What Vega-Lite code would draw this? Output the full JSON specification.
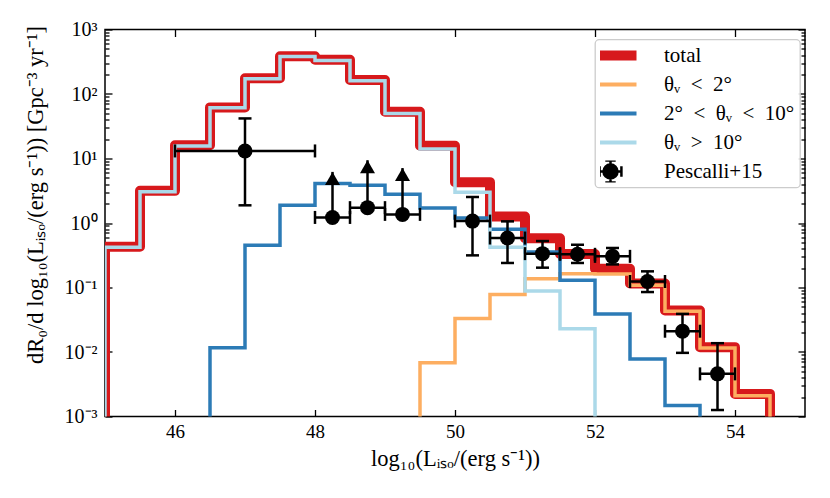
{
  "$schema": "https://vega.github.io/schema/vega-lite/v6.json",
  "width": 700,
  "height": 387,
  "autosize": {"type": "none"},
  "padding": {"left": 105, "top": 29.5, "right": 25, "bottom": 81.5},
  "background": "white",
  "datasets": {
    "hist": [
      {"s": "total", "i": 0, "x": 45, "v": 0.000001},
      {"s": "total", "i": 1, "x": 45, "v": 0.43},
      {"s": "total", "i": 2, "x": 45.5, "v": 3.15},
      {"s": "total", "i": 3, "x": 46, "v": 16},
      {"s": "total", "i": 4, "x": 46.5, "v": 62},
      {"s": "total", "i": 5, "x": 47, "v": 175},
      {"s": "total", "i": 6, "x": 47.5, "v": 385},
      {"s": "total", "i": 7, "x": 48, "v": 340},
      {"s": "total", "i": 8, "x": 48.5, "v": 165},
      {"s": "total", "i": 9, "x": 49, "v": 53},
      {"s": "total", "i": 10, "x": 49.5, "v": 15.8},
      {"s": "total", "i": 11, "x": 50, "v": 4.3},
      {"s": "total", "i": 12, "x": 50.5, "v": 1.26},
      {"s": "total", "i": 13, "x": 51, "v": 0.58},
      {"s": "total", "i": 14, "x": 51.5, "v": 0.33},
      {"s": "total", "i": 15, "x": 52, "v": 0.195},
      {"s": "total", "i": 16, "x": 52.5, "v": 0.115},
      {"s": "total", "i": 17, "x": 53, "v": 0.044},
      {"s": "total", "i": 18, "x": 53.5, "v": 0.0119},
      {"s": "total", "i": 19, "x": 54, "v": 0.00224},
      {"s": "total", "i": 20, "x": 54.5, "v": 0.00224},
      {"s": "total", "i": 21, "x": 54.5, "v": 0.000001},
      {"s": "θᵥ\u2002<\u20022°", "i": 0, "x": 49.5, "v": 0.000001},
      {"s": "θᵥ\u2002<\u20022°", "i": 1, "x": 49.5, "v": 0.0068},
      {"s": "θᵥ\u2002<\u20022°", "i": 2, "x": 50, "v": 0.033},
      {"s": "θᵥ\u2002<\u20022°", "i": 3, "x": 50.5, "v": 0.078},
      {"s": "θᵥ\u2002<\u20022°", "i": 4, "x": 51, "v": 0.137},
      {"s": "θᵥ\u2002<\u20022°", "i": 5, "x": 51.5, "v": 0.164},
      {"s": "θᵥ\u2002<\u20022°", "i": 6, "x": 52, "v": 0.162},
      {"s": "θᵥ\u2002<\u20022°", "i": 7, "x": 52.5, "v": 0.108},
      {"s": "θᵥ\u2002<\u20022°", "i": 8, "x": 53, "v": 0.043},
      {"s": "θᵥ\u2002<\u20022°", "i": 9, "x": 53.5, "v": 0.0115},
      {"s": "θᵥ\u2002<\u20022°", "i": 10, "x": 54, "v": 0.0021},
      {"s": "θᵥ\u2002<\u20022°", "i": 11, "x": 54.5, "v": 0.0021},
      {"s": "θᵥ\u2002<\u20022°", "i": 12, "x": 54.5, "v": 0.000001},
      {"s": "2°\u2002<\u2002θᵥ\u2002<\u200210°", "i": 0, "x": 46.5, "v": 0.000001},
      {"s": "2°\u2002<\u2002θᵥ\u2002<\u200210°", "i": 1, "x": 46.5, "v": 0.0116},
      {"s": "2°\u2002<\u2002θᵥ\u2002<\u200210°", "i": 2, "x": 47, "v": 0.45},
      {"s": "2°\u2002<\u2002θᵥ\u2002<\u200210°", "i": 3, "x": 47.5, "v": 1.88},
      {"s": "2°\u2002<\u2002θᵥ\u2002<\u200210°", "i": 4, "x": 48, "v": 4.1},
      {"s": "2°\u2002<\u2002θᵥ\u2002<\u200210°", "i": 5, "x": 48.5, "v": 3.85},
      {"s": "2°\u2002<\u2002θᵥ\u2002<\u200210°", "i": 6, "x": 49, "v": 2.79},
      {"s": "2°\u2002<\u2002θᵥ\u2002<\u200210°", "i": 7, "x": 49.5, "v": 1.71},
      {"s": "2°\u2002<\u2002θᵥ\u2002<\u200210°", "i": 8, "x": 50, "v": 1.2},
      {"s": "2°\u2002<\u2002θᵥ\u2002<\u200210°", "i": 9, "x": 50.5, "v": 0.8},
      {"s": "2°\u2002<\u2002θᵥ\u2002<\u200210°", "i": 10, "x": 51, "v": 0.355},
      {"s": "2°\u2002<\u2002θᵥ\u2002<\u200210°", "i": 11, "x": 51.5, "v": 0.129},
      {"s": "2°\u2002<\u2002θᵥ\u2002<\u200210°", "i": 12, "x": 52, "v": 0.039},
      {"s": "2°\u2002<\u2002θᵥ\u2002<\u200210°", "i": 13, "x": 52.5, "v": 0.0078},
      {"s": "2°\u2002<\u2002θᵥ\u2002<\u200210°", "i": 14, "x": 53, "v": 0.00148},
      {"s": "2°\u2002<\u2002θᵥ\u2002<\u200210°", "i": 15, "x": 53.5, "v": 0.00148},
      {"s": "2°\u2002<\u2002θᵥ\u2002<\u200210°", "i": 16, "x": 53.5, "v": 0.000001},
      {"s": "θᵥ\u2002>\u200210°", "i": 0, "x": 45, "v": 0.000001},
      {"s": "θᵥ\u2002>\u200210°", "i": 1, "x": 45, "v": 0.42},
      {"s": "θᵥ\u2002>\u200210°", "i": 2, "x": 45.5, "v": 3.05},
      {"s": "θᵥ\u2002>\u200210°", "i": 3, "x": 46, "v": 15.6},
      {"s": "θᵥ\u2002>\u200210°", "i": 4, "x": 46.5, "v": 61},
      {"s": "θᵥ\u2002>\u200210°", "i": 5, "x": 47, "v": 172},
      {"s": "θᵥ\u2002>\u200210°", "i": 6, "x": 47.5, "v": 380},
      {"s": "θᵥ\u2002>\u200210°", "i": 7, "x": 48, "v": 332},
      {"s": "θᵥ\u2002>\u200210°", "i": 8, "x": 48.5, "v": 160},
      {"s": "θᵥ\u2002>\u200210°", "i": 9, "x": 49, "v": 50},
      {"s": "θᵥ\u2002>\u200210°", "i": 10, "x": 49.5, "v": 14},
      {"s": "θᵥ\u2002>\u200210°", "i": 11, "x": 50, "v": 3.0},
      {"s": "θᵥ\u2002>\u200210°", "i": 12, "x": 50.5, "v": 0.42},
      {"s": "θᵥ\u2002>\u200210°", "i": 13, "x": 51, "v": 0.088},
      {"s": "θᵥ\u2002>\u200210°", "i": 14, "x": 51.5, "v": 0.023},
      {"s": "θᵥ\u2002>\u200210°", "i": 15, "x": 52, "v": 0.023},
      {"s": "θᵥ\u2002>\u200210°", "i": 16, "x": 52, "v": 0.000001}
    ],
    "obs": [
      {"x": 47, "y": 13.1, "xlo": 46, "xhi": 48, "ylo": 1.88, "yhi": 41.8, "tip": null},
      {"x": 48.25, "y": 1.22, "xlo": 48, "xhi": 48.5, "ylo": null, "yhi": null, "tip": 6.2},
      {"x": 48.75, "y": 1.73, "xlo": 48.5, "xhi": 49, "ylo": null, "yhi": null, "tip": 9.4},
      {"x": 49.25, "y": 1.36, "xlo": 49, "xhi": 49.5, "ylo": null, "yhi": null, "tip": 7.1},
      {"x": 50.25, "y": 1.07, "xlo": 50, "xhi": 50.5, "ylo": 0.315, "yhi": 2.53, "tip": null},
      {"x": 50.75, "y": 0.585, "xlo": 50.5, "xhi": 51, "ylo": 0.24, "yhi": 1.06, "tip": null},
      {"x": 51.25, "y": 0.335, "xlo": 51, "xhi": 51.5, "ylo": 0.203, "yhi": 0.525, "tip": null},
      {"x": 51.75, "y": 0.327, "xlo": 51.5, "xhi": 52, "ylo": 0.24, "yhi": 0.46, "tip": null},
      {"x": 52.25, "y": 0.304, "xlo": 52, "xhi": 52.5, "ylo": 0.228, "yhi": 0.41, "tip": null},
      {"x": 52.75, "y": 0.124, "xlo": 52.5, "xhi": 53, "ylo": 0.085, "yhi": 0.178, "tip": null},
      {"x": 53.25, "y": 0.021, "xlo": 53, "xhi": 53.5, "ylo": 0.0097, "yhi": 0.039, "tip": null},
      {"x": 53.75, "y": 0.00458, "xlo": 53.5, "xhi": 54, "ylo": 0.00126, "yhi": 0.0137, "tip": null}
    ]
  },
  "resolve": {"axis": {"x": "independent", "y": "independent"}},
  "layer": [
    {
      "data": {"name": "hist"},
      "transform": [{"filter": "datum.s === 'total'"}],
      "mark": {"type": "line", "interpolate": "step-after", "strokeWidth": 10, "clip": true, "strokeJoin": "round"},
      "encoding": {
        "x": {"field": "x", "type": "quantitative", "scale": {"domain": [45, 55], "nice": false, "zero": false},
          "axis": {"orient": "bottom", "values": [46, 48, 50, 52, 54], "tickSize": -7, "labelPadding": 13, "title": "log₁₀(Lᵢₛₒ/(erg s⁻¹))", "titleFontSize": 22.5, "titleY": 31, "titleBaseline": "top"}},
        "y": {"field": "v", "type": "quantitative", "scale": {"type": "log", "domain": [0.001, 1000], "nice": false},
          "axis": {"orient": "left", "values": [0.001, 0.01, 0.1, 1, 10, 100, 1000], "tickSize": -7, "labelPadding": 15, "labelBaseline": "middle", "labelFontSize": 20,
            "labelExpr": "datum.value < 0.005 ? '10⁻³' : datum.value < 0.05 ? '10⁻²' : datum.value < 0.5 ? '10⁻¹' : datum.value < 5 ? '10⁰' : datum.value < 50 ? '10¹' : datum.value < 500 ? '10²' : '10³'",
            "title": "dR₀/d log₁₀(Lᵢₛₒ/(erg s⁻¹)) [Gpc⁻³ yr⁻¹]", "titleFontSize": 22.5, "titleX": -58, "titleY": 165, "titleBaseline": "bottom"}},
        "color": {"field": "s", "type": "nominal",
          "scale": {"domain": ["total", "θᵥ\u2002<\u20022°", "2°\u2002<\u2002θᵥ\u2002<\u200210°", "θᵥ\u2002>\u200210°", "Pescalli+15"], "range": ["#d7191c", "#fdae61", "#2c7bb6", "#abd9e9", "#000000"]},
          "legend": {
            "orient": "none", "legendX": 490, "legendY": 10, "title": null,
            "symbolType": "stroke", "symbolSize": 2704, "symbolStrokeWidth": 4, "clipHeight": 22,
            "labelFont": "Liberation Serif", "labelFontSize": 21, "labelColor": "black", "labelOffset": 43, "labelLimit": 300,
            "rowPadding": 7, "padding": 5, "strokeColor": "#cccccc", "fillColor": "#ffffff", "cornerRadius": 4,
            "symbolOpacity": 1,
            "encode": {
              "legend": {"update": {"stroke": {"value": "#cccccc"}, "strokeWidth": {"value": 1.3}, "fill": {"value": "#ffffff"}, "fillOpacity": {"value": 0.85}, "cornerRadius": {"value": 4}}},
              "symbols": {"update": {
                "shape": {"signal": "datum.value === 'Pescalli+15' ? 'M -0.27 0 A 0.27 0.27 0 1 0 0.27 0 A 0.27 0.27 0 1 0 -0.27 0 Z M -0.42 0 L 0.42 0 M 0 -0.42 L 0 0.42 M -0.42 -0.2 L -0.42 0.2 M 0.42 -0.2 L 0.42 0.2 M -0.2 -0.42 L 0.2 -0.42 M -0.2 0.42 L 0.2 0.42' : 'stroke'"},
                "strokeWidth": {"signal": "datum.value === 'total' ? 10 : datum.value === 'Pescalli+15' ? 2.5 : 4"},
                "stroke": {"scale": "color", "field": "value"},
                "fill": {"signal": "datum.value === 'Pescalli+15' ? '#000000' : 'transparent'"},
                "opacity": {"value": 1}
              }}
            }
          }},
        "order": {"field": "i", "type": "quantitative"}
      }
    },
    {
      "data": {"name": "hist"},
      "transform": [{"filter": "datum.s !== 'total'"}],
      "mark": {"type": "line", "interpolate": "step-after", "strokeWidth": 3.5, "clip": true, "strokeJoin": "miter"},
      "encoding": {
        "x": {"field": "x", "type": "quantitative", "scale": {"domain": [45, 55], "nice": false, "zero": false},
          "axis": {"orient": "top", "values": [46, 48, 50, 52, 54], "tickSize": -7, "labels": false, "title": null}},
        "y": {"field": "v", "type": "quantitative", "scale": {"type": "log", "domain": [0.001, 1000], "nice": false},
          "axis": {"orient": "left", "values": [0.002, 0.003, 0.004, 0.005, 0.006, 0.007, 0.008, 0.009, 0.02, 0.03, 0.04, 0.05, 0.06, 0.07, 0.08, 0.09, 0.2, 0.3, 0.4, 0.5, 0.6, 0.7, 0.8, 0.9, 2, 3, 4, 5, 6, 7, 8, 9, 20, 30, 40, 50, 60, 70, 80, 90, 200, 300, 400, 500, 600, 700, 800, 900], "tickSize": -4, "labels": false, "title": null}},
        "color": {"field": "s", "type": "nominal",
          "scale": {"domain": ["total", "θᵥ\u2002<\u20022°", "2°\u2002<\u2002θᵥ\u2002<\u200210°", "θᵥ\u2002>\u200210°", "Pescalli+15"], "range": ["#d7191c", "#fdae61", "#2c7bb6", "#abd9e9", "#000000"]}},
        "order": {"field": "i", "type": "quantitative"}
      }
    },
    {
      "data": {"name": "obs"},
      "transform": [{"filter": "datum.ylo != null"}],
      "mark": {"type": "rule", "strokeWidth": 2.5, "color": "black"},
      "encoding": {
        "x": {"field": "x", "type": "quantitative", "scale": {"domain": [45, 55], "nice": false, "zero": false}, "axis": null},
        "y": {"field": "ylo", "type": "quantitative", "scale": {"type": "log", "domain": [0.001, 1000], "nice": false},
          "axis": {"orient": "right", "values": [0.001, 0.01, 0.1, 1, 10, 100, 1000], "tickSize": -7, "labels": false, "title": null}},
        "y2": {"field": "yhi"}
      }
    },
    {
      "data": {"name": "obs"},
      "mark": {"type": "rule", "strokeWidth": 2.5, "color": "black"},
      "encoding": {
        "x": {"field": "xlo", "type": "quantitative", "scale": {"domain": [45, 55], "nice": false, "zero": false}, "axis": null},
        "x2": {"field": "xhi"},
        "y": {"field": "y", "type": "quantitative", "scale": {"type": "log", "domain": [0.001, 1000], "nice": false},
          "axis": {"orient": "right", "values": [0.002, 0.003, 0.004, 0.005, 0.006, 0.007, 0.008, 0.009, 0.02, 0.03, 0.04, 0.05, 0.06, 0.07, 0.08, 0.09, 0.2, 0.3, 0.4, 0.5, 0.6, 0.7, 0.8, 0.9, 2, 3, 4, 5, 6, 7, 8, 9, 20, 30, 40, 50, 60, 70, 80, 90, 200, 300, 400, 500, 600, 700, 800, 900], "tickSize": -4, "labels": false, "title": null}}
      }
    },
    {
      "data": {"name": "obs"},
      "transform": [{"filter": "datum.tip != null"}],
      "mark": {"type": "rule", "strokeWidth": 2.5, "color": "black"},
      "encoding": {
        "x": {"field": "x", "type": "quantitative", "scale": {"domain": [45, 55], "nice": false, "zero": false}, "axis": null},
        "y": {"field": "y", "type": "quantitative", "scale": {"type": "log", "domain": [0.001, 1000], "nice": false}, "axis": null},
        "y2": {"field": "tip"}
      }
    },
    {
      "data": {"name": "obs"},
      "transform": [{"fold": ["xlo", "xhi"], "as": ["k", "xe"]}],
      "mark": {"type": "tick", "orient": "vertical", "size": 13, "thickness": 2.5, "color": "black", "opacity": 1},
      "encoding": {
        "x": {"field": "xe", "type": "quantitative", "scale": {"domain": [45, 55], "nice": false, "zero": false}, "axis": null},
        "y": {"field": "y", "type": "quantitative", "scale": {"type": "log", "domain": [0.001, 1000], "nice": false}, "axis": null}
      }
    },
    {
      "data": {"name": "obs"},
      "transform": [{"fold": ["ylo", "yhi"], "as": ["k", "ye"]}, {"filter": "datum.ye != null"}],
      "mark": {"type": "tick", "orient": "horizontal", "size": 13, "thickness": 2.5, "color": "black", "opacity": 1},
      "encoding": {
        "x": {"field": "x", "type": "quantitative", "scale": {"domain": [45, 55], "nice": false, "zero": false}, "axis": null},
        "y": {"field": "ye", "type": "quantitative", "scale": {"type": "log", "domain": [0.001, 1000], "nice": false}, "axis": null}
      }
    },
    {
      "data": {"name": "obs"},
      "transform": [{"filter": "datum.tip != null"}],
      "mark": {"type": "point", "shape": "triangle-up", "filled": true, "size": 225, "yOffset": 6.5, "color": "black", "opacity": 1},
      "encoding": {
        "x": {"field": "x", "type": "quantitative", "scale": {"domain": [45, 55], "nice": false, "zero": false}, "axis": null},
        "y": {"field": "tip", "type": "quantitative", "scale": {"type": "log", "domain": [0.001, 1000], "nice": false}, "axis": null}
      }
    },
    {
      "data": {"name": "obs"},
      "mark": {"type": "point", "shape": "circle", "filled": true, "size": 225, "color": "black", "opacity": 1},
      "encoding": {
        "x": {"field": "x", "type": "quantitative", "scale": {"domain": [45, 55], "nice": false, "zero": false}, "axis": null},
        "y": {"field": "y", "type": "quantitative", "scale": {"type": "log", "domain": [0.001, 1000], "nice": false}, "axis": null}
      }
    }
  ],
  "config": {
    "view": {"stroke": "black", "strokeWidth": 1.5},
    "axis": {"grid": false, "domain": false, "labelFont": "Liberation Serif", "titleFont": "Liberation Serif", "labelFontSize": 19, "titleFontSize": 20, "labelColor": "black", "titleColor": "black", "tickColor": "black", "tickWidth": 1.3, "titleFontWeight": "normal", "labelFlush": false, "labelOverlap": false}
  }
}
